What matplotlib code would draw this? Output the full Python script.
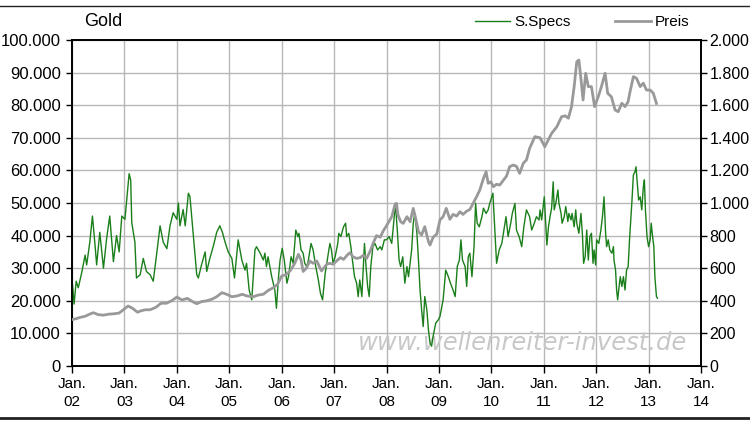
import matplotlib
matplotlib.use("Agg")
import matplotlib.pyplot as plt
from matplotlib.lines import Line2D
from matplotlib.ticker import FuncFormatter

plt.rcParams['font.family'] = ['Liberation Sans', 'DejaVu Sans']

# S.Specs (non-commercial net position), in thousands
spec_t = [2002.00, 2002.01, 2002.04, 2002.08, 2002.12, 2002.19, 2002.25, 2002.28, 2002.34, 2002.39,
          2002.44, 2002.47, 2002.53, 2002.60, 2002.66, 2002.72, 2002.79, 2002.85, 2002.90, 2002.95,
          2003.01, 2003.05, 2003.09, 2003.12, 2003.14, 2003.20, 2003.23, 2003.30, 2003.36, 2003.42,
          2003.49, 2003.55, 2003.62, 2003.68, 2003.74, 2003.81, 2003.87, 2003.93, 2004.00, 2004.03,
          2004.06, 2004.12, 2004.16, 2004.22, 2004.25, 2004.31, 2004.38, 2004.41, 2004.47, 2004.54,
          2004.57, 2004.63, 2004.70, 2004.76, 2004.82, 2004.87, 2004.92, 2004.98, 2005.05, 2005.10,
          2005.17, 2005.24, 2005.30, 2005.33, 2005.38, 2005.43, 2005.49, 2005.52, 2005.59, 2005.65,
          2005.68, 2005.71, 2005.74, 2005.81, 2005.87, 2005.90, 2005.94, 2005.97, 2006.01, 2006.05,
          2006.10, 2006.13, 2006.18, 2006.22, 2006.27, 2006.31, 2006.33, 2006.37, 2006.41, 2006.44,
          2006.48, 2006.51, 2006.56, 2006.60, 2006.65, 2006.70, 2006.74, 2006.78, 2006.83, 2006.88,
          2006.92, 2006.95, 2006.98, 2007.02, 2007.07, 2007.09, 2007.13, 2007.18, 2007.22, 2007.24,
          2007.28, 2007.32, 2007.35, 2007.39, 2007.43, 2007.46, 2007.49, 2007.53, 2007.58, 2007.60,
          2007.64, 2007.67, 2007.70, 2007.74, 2007.78, 2007.83, 2007.88, 2007.91, 2007.96, 2008.00,
          2008.05, 2008.10, 2008.13, 2008.17, 2008.21, 2008.24, 2008.27, 2008.31, 2008.33, 2008.35,
          2008.39, 2008.42, 2008.45, 2008.48, 2008.51, 2008.54, 2008.58, 2008.61, 2008.64, 2008.67,
          2008.70, 2008.73, 2008.77, 2008.80, 2008.83, 2008.86, 2008.89, 2008.94, 2008.99, 2009.02,
          2009.08, 2009.13, 2009.18, 2009.22, 2009.27, 2009.31, 2009.35, 2009.39, 2009.42, 2009.45,
          2009.50, 2009.53, 2009.56, 2009.59, 2009.63, 2009.67, 2009.70, 2009.73, 2009.77, 2009.82,
          2009.85, 2009.90, 2009.94, 2009.97, 2010.03, 2010.07, 2010.10, 2010.15, 2010.20, 2010.24,
          2010.28, 2010.32, 2010.37, 2010.40, 2010.45, 2010.48, 2010.53, 2010.58, 2010.62, 2010.67,
          2010.73, 2010.77, 2010.82, 2010.86, 2010.91, 2010.93, 2010.96, 2010.99, 2011.01, 2011.04,
          2011.06, 2011.09, 2011.12, 2011.15, 2011.18, 2011.20, 2011.23, 2011.27, 2011.29, 2011.33,
          2011.35, 2011.39, 2011.42, 2011.46, 2011.48, 2011.52, 2011.54, 2011.58, 2011.61, 2011.63,
          2011.67, 2011.71, 2011.74, 2011.76, 2011.79, 2011.82, 2011.85, 2011.88, 2011.91, 2011.94,
          2011.96, 2011.99, 2012.01, 2012.05, 2012.09, 2012.12, 2012.15, 2012.18, 2012.20, 2012.23,
          2012.26, 2012.30, 2012.33, 2012.34, 2012.37, 2012.39, 2012.41, 2012.43, 2012.46, 2012.49,
          2012.52, 2012.55, 2012.58, 2012.61, 2012.64, 2012.68, 2012.71, 2012.74, 2012.76, 2012.79,
          2012.81, 2012.84, 2012.87, 2012.90, 2012.92, 2012.94, 2012.97, 2013.00, 2013.03, 2013.05,
          2013.07, 2013.10, 2013.12, 2013.15, 2013.17]
spec_k = [16, 25, 19, 26, 24, 29, 34, 31, 38, 46,
          37, 31, 41, 30, 39, 46, 32, 40, 35, 46,
          45, 52, 59, 57, 44, 38, 27, 28, 33, 29,
          28, 26, 35, 43, 38, 36, 43, 47, 45, 50,
          43, 48, 43, 53, 52, 41, 28, 27, 31, 35,
          29, 33, 37, 41, 43, 41, 38, 35, 33, 27,
          38.7, 32.5, 29.4, 31.5, 23.3, 20.3, 35.6, 36.6, 34.6, 32.5,
          34.6, 30.5, 33.5, 27.4, 23.3, 17.7, 27.4, 32.5, 36.1, 32.5,
          25.4, 27.4, 33.5, 31.5, 41.7, 39.7, 40.7, 35.6, 34.6, 31.5,
          30.5, 32.5, 37.6, 35.6, 30.5, 26.4, 22.3, 20.3, 28.4, 33.5,
          37.6, 35.6, 31.5, 33.5, 37.6, 40.7, 39.7, 42.7, 43.8, 39.7,
          40.7, 36.6, 32.5, 27.4, 25.4, 21.3, 26.4, 21.3, 37.6, 32.5,
          24.4, 21.3, 30.5, 36.6, 37.6, 35.6, 36.6, 35.6, 38.7, 38.7,
          39.7, 37.6, 42.7, 49.9, 40.7, 32.5, 30.5, 33.5, 29.4, 25.4,
          30.5, 27.4, 31.5, 35.6, 43.8, 46.8, 40.7, 32.5, 23.3, 17.2,
          12.1, 21.3, 17.2, 11.1, 7.1, 6.1, 9.2, 13.2, 14.2, 15.2,
          20.3, 29.4, 27.4, 25.4, 23.3, 21.3, 30.5, 32.5, 38.7, 32.5,
          30.5, 24.4, 33.5, 34.6, 27.4, 36.6, 49.9, 43.8, 42.7, 45.8,
          48.4, 46.8, 47.9, 49.9, 53.0, 40.7, 31.5, 35.6, 37.6, 41.7,
          45.8, 39.7, 43.8, 46.8, 49.9, 41.7, 39.7, 36.6, 42.7, 47.9,
          45.8, 41.7, 43.8, 45.8, 44.8, 47.9, 44.8, 48.9, 51.9, 42.7,
          37.1, 42.7, 45.8, 48.4, 56.5, 47.9, 49.9, 54.0, 49.9, 46.8,
          43.8, 45.8, 48.9, 44.3, 46.8, 44.8, 46.8, 42.7, 47.9, 43.8,
          40.7, 46.8, 39.7, 31.5, 33.5, 41.7, 32.5, 39.7, 40.7, 31.5,
          35.6, 31.0, 38.7, 37.6, 41.7, 45.8, 51.9, 40.7, 36.6, 38.7,
          35.6, 34.6, 36.6, 32.5, 29.4, 23.3, 20.3, 23.3, 27.4, 24.4,
          27.4, 23.3, 29.4, 30.5, 39.7, 49.9, 58.6, 59.6, 61.1, 55.0,
          50.9, 51.9, 47.9, 55.0, 57.1, 47.9, 39.7, 36.6, 38.7, 43.8,
          40.7, 36.6, 27.4, 21.3, 20.8]

# Gold price in USD
price_t = [2002.00, 2002.08, 2002.15, 2002.25, 2002.35, 2002.41, 2002.50, 2002.60, 2002.70, 2002.79,
           2002.90, 2002.98, 2003.07, 2003.15, 2003.25, 2003.30, 2003.40, 2003.49, 2003.60, 2003.70,
           2003.80, 2003.90, 2004.00, 2004.10, 2004.20, 2004.30, 2004.38, 2004.47, 2004.57, 2004.67,
           2004.76, 2004.86, 2004.95, 2005.05, 2005.15, 2005.25, 2005.33, 2005.46, 2005.55, 2005.65,
           2005.75, 2005.84, 2005.92, 2006.00, 2006.08, 2006.16, 2006.25, 2006.32, 2006.37, 2006.41,
           2006.47, 2006.54, 2006.60, 2006.67, 2006.76, 2006.80, 2006.86, 2006.92, 2006.98, 2007.05,
           2007.12, 2007.18, 2007.25, 2007.30, 2007.36, 2007.43, 2007.50, 2007.56, 2007.62, 2007.69,
           2007.75, 2007.81, 2007.88, 2007.94, 2008.00, 2008.10, 2008.16, 2008.19, 2008.22, 2008.27,
           2008.32, 2008.39, 2008.45, 2008.51, 2008.56, 2008.61, 2008.67, 2008.73, 2008.80, 2008.83,
           2008.89, 2008.96, 2009.02, 2009.08, 2009.14, 2009.21, 2009.27, 2009.34, 2009.40, 2009.46,
           2009.53, 2009.59, 2009.67, 2009.72, 2009.78, 2009.85, 2009.90, 2009.94, 2009.99, 2010.04,
           2010.10, 2010.16, 2010.23, 2010.29, 2010.35, 2010.42, 2010.48, 2010.54, 2010.61, 2010.67,
           2010.73, 2010.83, 2010.93, 2011.02, 2011.15, 2011.25, 2011.34, 2011.41, 2011.47, 2011.53,
           2011.58, 2011.63, 2011.67, 2011.71, 2011.75, 2011.80, 2011.85, 2011.91, 2011.97, 2012.04,
           2012.10, 2012.17, 2012.22, 2012.29, 2012.36, 2012.42, 2012.49, 2012.55, 2012.61, 2012.64,
           2012.71, 2012.77, 2012.84, 2012.90, 2012.96, 2013.03, 2013.09, 2013.12, 2013.15]
price = [285, 290, 298, 305, 320, 327, 315, 312, 318, 320,
         325, 345, 368, 355, 330, 337, 345, 345, 360, 385,
         385, 400, 423, 405, 415, 395, 382, 395, 400, 410,
         425, 450, 440, 425, 430, 440, 430, 425, 435, 440,
         465, 480, 500, 552, 560, 583, 630, 685, 650, 580,
         600, 644, 630, 644, 583, 600, 624, 630, 624, 645,
         665, 654, 680, 695, 670, 660, 665, 680, 660, 706,
         757, 800, 790, 830, 860, 916, 988, 998, 926, 885,
         875, 916, 885, 967, 900, 824, 804, 855, 763, 742,
         790, 810, 896, 916, 967, 900, 930, 920, 947, 930,
         950, 960, 1008, 1039, 1080, 1151, 1192, 1121, 1130, 1100,
         1115, 1110, 1140, 1165, 1223, 1233, 1225, 1182, 1244, 1264,
         1335, 1407, 1400, 1345, 1427, 1468, 1529, 1535, 1520, 1591,
         1714, 1867, 1877, 1760, 1632, 1796, 1714, 1714, 1591, 1652,
         1714, 1796, 1673, 1652, 1571, 1560, 1612, 1591, 1622, 1673,
         1775, 1765, 1714, 1735, 1693, 1693, 1673, 1642, 1611]

years = list(range(2002, 2015))
year_labels = ["Jan.\n%02d" % (y % 100) for y in years]


def de_fmt(v, pos):
    return f"{int(round(v)):,}".replace(",", ".")


fig = plt.figure(figsize=(7.5, 4.22), dpi=100)
ax = fig.add_axes([72 / 750, 56 / 422, 629 / 750, 326 / 422])
ax2 = ax.twinx()

spec_vals = [v * 1000 for v in spec_k]
ax.plot(spec_t, spec_vals, color="#1a7f1a", lw=1.0, zorder=4, label="S.Specs")
ax2.plot(price_t, price, color="#999999", lw=2.0, zorder=3, label="Preis")

ax.set_xlim(2002, 2014)
ax.set_ylim(0, 100000)
ax2.set_ylim(0, 2000)
ax.set_yticks(range(0, 100001, 10000))
ax2.set_yticks(range(0, 2001, 200))
ax.yaxis.set_major_formatter(FuncFormatter(de_fmt))
ax2.yaxis.set_major_formatter(FuncFormatter(de_fmt))
ax.set_xticks(years)
ax.set_xticklabels(year_labels)

ax.grid(True, color="#b8b8b8", lw=1.0)
ax.set_axisbelow(True)
for a in (ax, ax2):
    for s in a.spines.values():
        s.set_color("black")
        s.set_linewidth(1.2)
ax.tick_params(axis="y", direction="out", length=4, width=1, labelsize=12, pad=4)
ax2.tick_params(axis="y", direction="out", length=4, width=1, labelsize=11.5, pad=2)
ax.tick_params(axis="x", direction="out", length=5, width=1, labelsize=11, pad=3)
for t in ax.get_xticklabels():
    t.set_linespacing(1.35)

# watermark
ax.text(0.716, 0.072, "www.wellenreiter-invest.de", transform=ax.transAxes,
        ha="center", va="center", fontsize=17.5, style="italic",
        family="DejaVu Sans", color="#c8c8c8", zorder=2)

fig.text(84 / 750, 1 - 22 / 422, "Gold", fontsize=13, va="center", ha="left")

handles = [Line2D([], [], color="#1a7f1a", lw=1.0), Line2D([], [], color="#999999", lw=2.0)]
fig.legend(handles, ["S.Specs", "Preis"], loc="center left",
           bbox_to_anchor=(475 / 750, 1 - 22 / 422), ncol=2, frameon=False,
           fontsize=11, handlelength=2.3, handletextpad=0.3, columnspacing=2.9,
           borderpad=0, borderaxespad=0)

# frame lines of the image
fig.add_artist(Line2D([0, 1], [1 - 6 / 422, 1 - 6 / 422], color="#222222", lw=1.0,
                      transform=fig.transFigure))
fig.add_artist(Line2D([0, 1], [1 - 418 / 422, 1 - 418 / 422], color="#222222", lw=2.0,
                      transform=fig.transFigure))

fig.savefig("out.png", dpi=100)
